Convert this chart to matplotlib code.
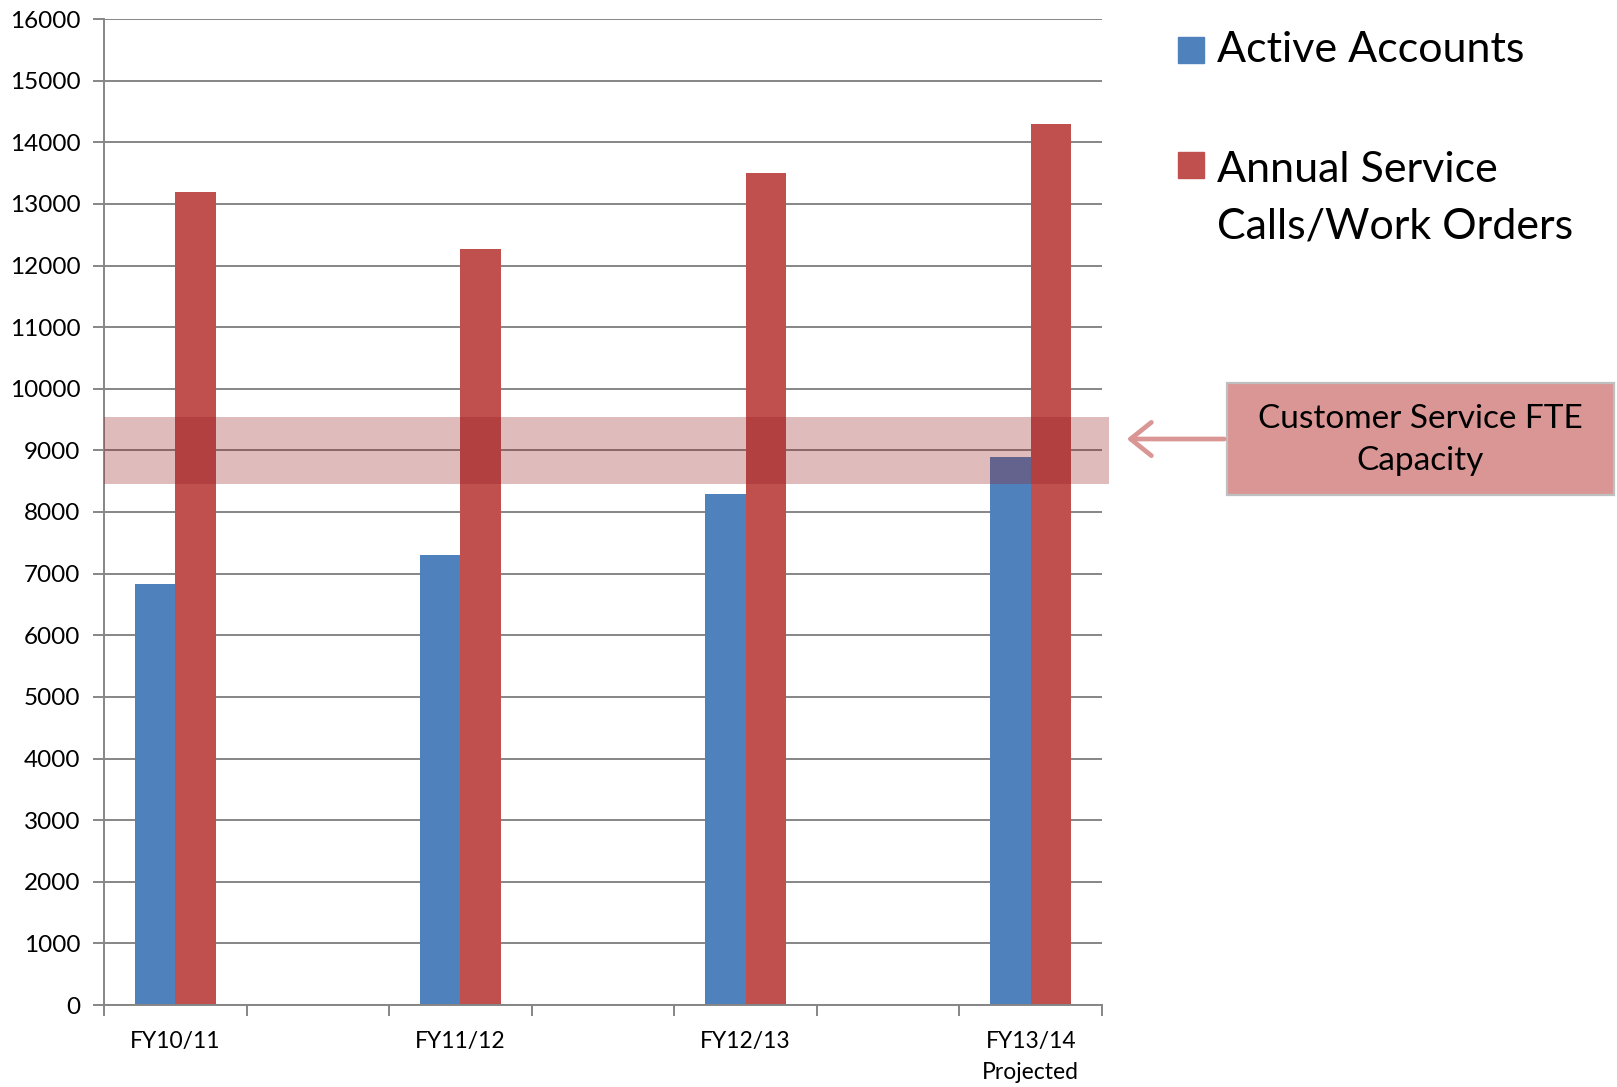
import matplotlib
matplotlib.use("Agg")
import matplotlib.pyplot as plt
from matplotlib.patches import Rectangle, FancyArrowPatch

# ---- data ----
categories = ["FY10/11", "", "FY11/12", "", "FY12/13", "", "FY13/14\nProjected"]
active_accounts = [6830, None, 7310, None, 8300, None, 8900]
service_calls = [13200, None, 12270, None, 13500, None, 14300]
series_names = ["Active Accounts", "Annual Service\nCalls/Work Orders"]
capacity_band = (8450, 9540)
capacity_label = "Customer Service FTE\nCapacity"
yticks = list(range(0, 16001, 1000))

BLUE = "#4F81BD"
RED = "#C0504D"
GRID = "#868686"
FONT = "Lato"

W, H = 1617, 1087
fig = plt.figure(figsize=(W / 100, H / 100), dpi=100)
ax = fig.add_axes([104 / W, 1 - 1005 / H, (1102 - 104) / W, (1005 - 19) / H])

bw = 1 / 3.5
xs = [i for i, v in enumerate(active_accounts) if v is not None]
ax.bar([x - bw / 2 for x in xs], [active_accounts[x] for x in xs], width=bw,
       color=BLUE, zorder=2, linewidth=0)
ax.bar([x + bw / 2 for x in xs], [service_calls[x] for x in xs], width=bw,
       color=RED, zorder=2, linewidth=0)

ax.axhspan(capacity_band[0], capacity_band[1], xmin=0, xmax=1.007,
           color=(150 / 255, 30 / 255, 35 / 255), alpha=0.3, linewidth=0,
           zorder=3, clip_on=False)

ax.set_xlim(-0.5, len(categories) - 0.5)
ax.set_ylim(0, 16000)
ax.set_yticks(yticks)
ax.set_yticklabels([str(v) for v in yticks], fontfamily=FONT, fontsize=17.5)
ax.yaxis.grid(True, color=GRID, linewidth=1.4, zorder=1)
ax.set_axisbelow(True)

# category ticks at slot boundaries, labels at centers
ax.set_xticks([i - 0.5 for i in range(len(categories) + 1)])
ax.set_xticklabels([])
ax.set_xticks(range(len(categories)), minor=True)
ax.set_xticklabels(categories, minor=True, fontfamily=FONT, fontsize=16.5,
                   linespacing=1.55)
ax.tick_params(axis="x", which="minor", length=0, pad=19)
ax.tick_params(axis="x", which="major", length=8, width=1.4, color=GRID, direction="out")
ax.tick_params(axis="y", length=8, width=1.4, color=GRID, pad=9, direction="out")

for s in ["top", "right"]:
    ax.spines[s].set_visible(False)
for s in ["left", "bottom"]:
    ax.spines[s].set_color(GRID)
    ax.spines[s].set_linewidth(1.4)

# ---- legend (manual) ----
def fx(px):
    return px / W

def fy(py):
    return 1 - py / H

sq = 26
fig.patches.append(Rectangle((fx(1178), fy(37 + sq)), sq / W, sq / H,
                             transform=fig.transFigure, color=BLUE))
fig.patches.append(Rectangle((fx(1178), fy(152 + sq)), sq / W, sq / H,
                             transform=fig.transFigure, color=RED))
fig.text(fx(1217), fy(50), series_names[0], fontfamily=FONT, fontsize=31,
         ha="left", va="center")
fig.text(fx(1217), fy(198), series_names[1], fontfamily=FONT, fontsize=31,
         ha="left", va="center", linespacing=1.6)

# ---- capacity annotation box ----
fig.patches.append(Rectangle((fx(1227), fy(495)), (1614 - 1227) / W, (495 - 383) / H,
                             transform=fig.transFigure, facecolor="#D99694",
                             edgecolor="#BFBFBF", linewidth=1.6))
fig.text(fx(1420), fy(440), capacity_label, fontfamily=FONT, fontsize=24,
         ha="center", va="center", linespacing=1.5)
arrow = FancyArrowPatch((fx(1227), fy(439)), (fx(1124), fy(439)),
                        transform=fig.transFigure,
                        arrowstyle="->,head_length=15,head_width=12",
                        color="#D99694", linewidth=3.4, mutation_scale=1,
                        capstyle="round", joinstyle="round")
fig.patches.append(arrow)

fig.savefig("out.png", dpi=100)
